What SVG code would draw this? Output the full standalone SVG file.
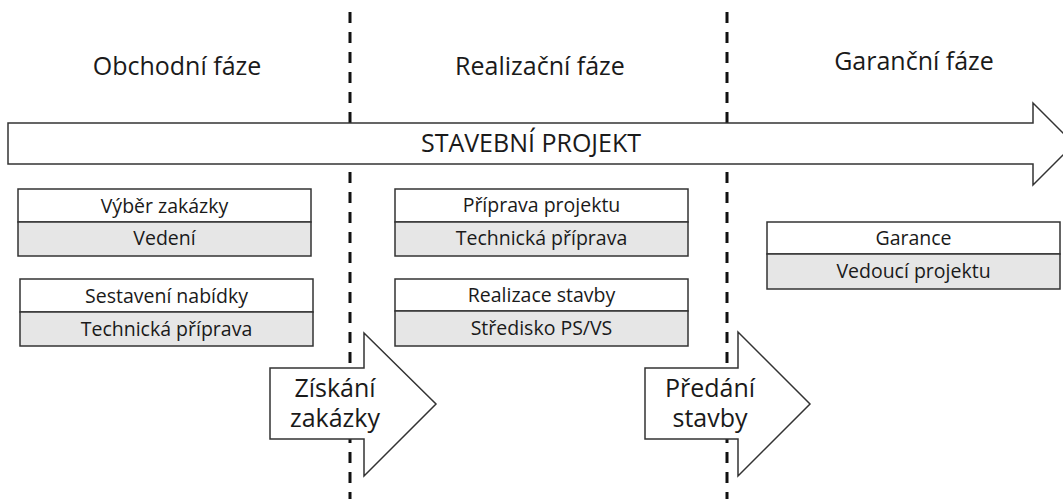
<svg xmlns="http://www.w3.org/2000/svg" width="1063" height="499" viewBox="0 0 1063 499">
<style>
text{font-family:"Open Sans","Noto Sans","Liberation Sans",sans-serif;fill:#1a1a1a;text-anchor:middle}
.phase{font-size:25px}
.big{font-size:25px}
.lbl{font-size:19.5px}
.dash{stroke:#111;stroke-width:3;stroke-dasharray:11 9;fill:none}
.shape{fill:#fff;stroke:#333;stroke-width:1.5}
.top{fill:#fff;stroke:#333;stroke-width:1.5}
.bot{fill:#e6e6e6;stroke:#333;stroke-width:1.5}
</style>
<rect width="1063" height="499" fill="#fff"/>
<g id="connectors">
<line class="dash" x1="350" y1="12" x2="350" y2="499"/>
<line class="dash" x1="727" y1="12" x2="727" y2="499"/>
</g>
<g id="phase-labels">
<text class="phase" x="177" y="75">Obchodní fáze</text>
<text class="phase" x="540" y="75">Realizační fáze</text>
<text class="phase" x="914" y="70">Garanční fáze</text>
</g>
<g id="project-arrow">
<polygon class="shape" points="8,123 1033,123 1033,103 1074,144 1033,185 1033,164 8,164"/>
<text class="phase" x="531" y="152">STAVEBNÍ PROJEKT</text>
</g>
<g id="vyber">
<rect class="top" x="18" y="189" width="293" height="33"/>
<rect class="bot" x="18" y="222" width="293" height="34"/>
<text class="lbl" x="164.5" y="213">Výběr zakázky</text>
<text class="lbl" x="164.5" y="245">Vedení</text>
</g>
<g id="sestaveni">
<rect class="top" x="20" y="279" width="293" height="33"/>
<rect class="bot" x="20" y="312" width="293" height="34"/>
<text class="lbl" x="166.5" y="303">Sestavení nabídky</text>
<text class="lbl" x="166.5" y="336">Technická příprava</text>
</g>
<g id="priprava">
<rect class="top" x="395" y="189" width="293" height="33"/>
<rect class="bot" x="395" y="222" width="293" height="34"/>
<text class="lbl" x="541.5" y="212">Příprava projektu</text>
<text class="lbl" x="541.5" y="245">Technická příprava</text>
</g>
<g id="realizace">
<rect class="top" x="395" y="279" width="293" height="32"/>
<rect class="bot" x="395" y="311" width="293" height="35"/>
<text class="lbl" x="541.5" y="302">Realizace stavby</text>
<text class="lbl" x="541.5" y="335">Středisko PS/VS</text>
</g>
<g id="garance">
<rect class="top" x="767" y="222" width="293" height="32"/>
<rect class="bot" x="767" y="254" width="293" height="35"/>
<text class="lbl" x="913.5" y="245">Garance</text>
<text class="lbl" x="913.5" y="278">Vedoucí projektu</text>
</g>
<g id="ziskani">
<polygon class="shape" points="270,368 364,368 364,333 436,404 364,476 364,439 270,439"/>
<text class="big" x="335" y="397">Získání</text>
<text class="big" x="335" y="427">zakázky</text>
</g>
<g id="predani">
<polygon class="shape" points="645,368 738,368 738,332 810,404 738,476 738,439 645,439"/>
<text class="big" x="710" y="397">Předání</text>
<text class="big" x="710" y="427">stavby</text>
</g>
</svg>
